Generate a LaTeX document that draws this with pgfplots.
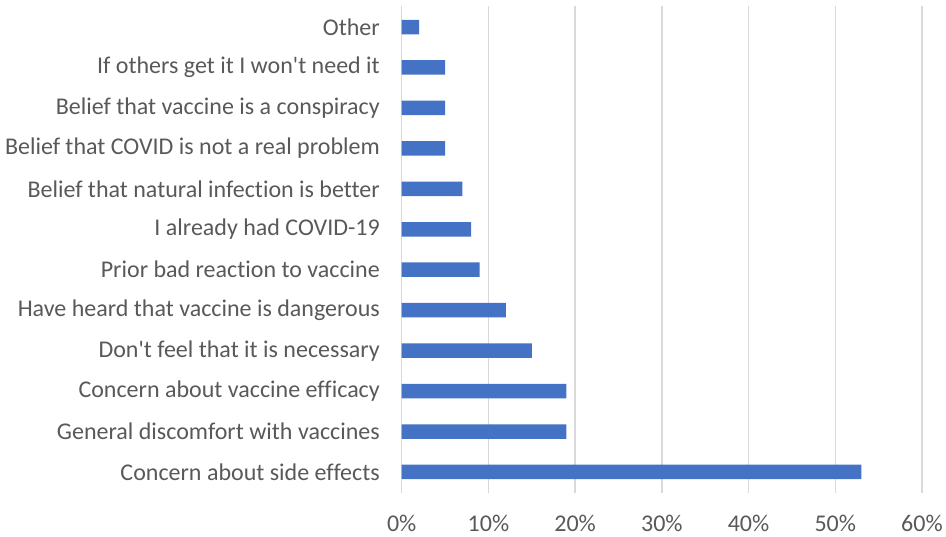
\documentclass[border=0pt]{standalone}
\usepackage{pgfplots}
\pgfplotsset{compat=1.18}
\usepackage{fontspec}
\setmainfont{Carlito}[Ligatures={NoCommon,TeXOff}]
\definecolor{barblue}{HTML}{4472C4}
\definecolor{gridgray}{HTML}{D9D9D9}
\definecolor{labelgray}{HTML}{595959}
\begin{document}
\begin{tikzpicture}[x=1pt,y=1pt]
\begin{axis}[
  at={(0,0)}, anchor=south west,
  scale only axis, width=520.3pt, height=487pt,
  xbar, bar width=14.5pt,
  xmin=0, xmax=60, ymin=-0.52, ymax=11.52,
  xtick={0,10,...,60},
  xticklabel={\pgfmathprintnumber{\tick}\%},
  ytick={0,...,11},
  yticklabels={
    Concern about side effects,
    General discomfort with vaccines,
    Concern about vaccine efficacy,
    Don't feel that it is necessary,
    Have heard that vaccine is dangerous,
    Prior bad reaction to vaccine,
    I already had COVID-19,
    Belief that natural infection is better,
    Belief that COVID is not a real problem,
    Belief that vaccine is a conspiracy,
    If others get it I won't need it,
    Other},
  axis line style={draw=none},
  major tick length=0pt,
  xmajorgrids, grid style={gridgray, line width=1.5pt},
  ticklabel style={font=\fontsize{24}{28}\selectfont, text=labelgray, inner sep=0pt},
  yticklabel style={anchor=east, xshift=-21.7pt},
  xticklabel style={anchor=north, yshift=-22pt},
  /pgf/number format/assume math mode=true,
]
\addplot[fill=barblue, draw=none] coordinates {
  (53,0) (19,1) (19,2) (15,3) (12,4) (9,5)
  (8,6) (7,7) (5,8) (5,9) (5,10) (2,11)};
\end{axis}
\path[use as bounding box] (-401.7,-43) rectangle (544.3,493);
\end{tikzpicture}
\end{document}
